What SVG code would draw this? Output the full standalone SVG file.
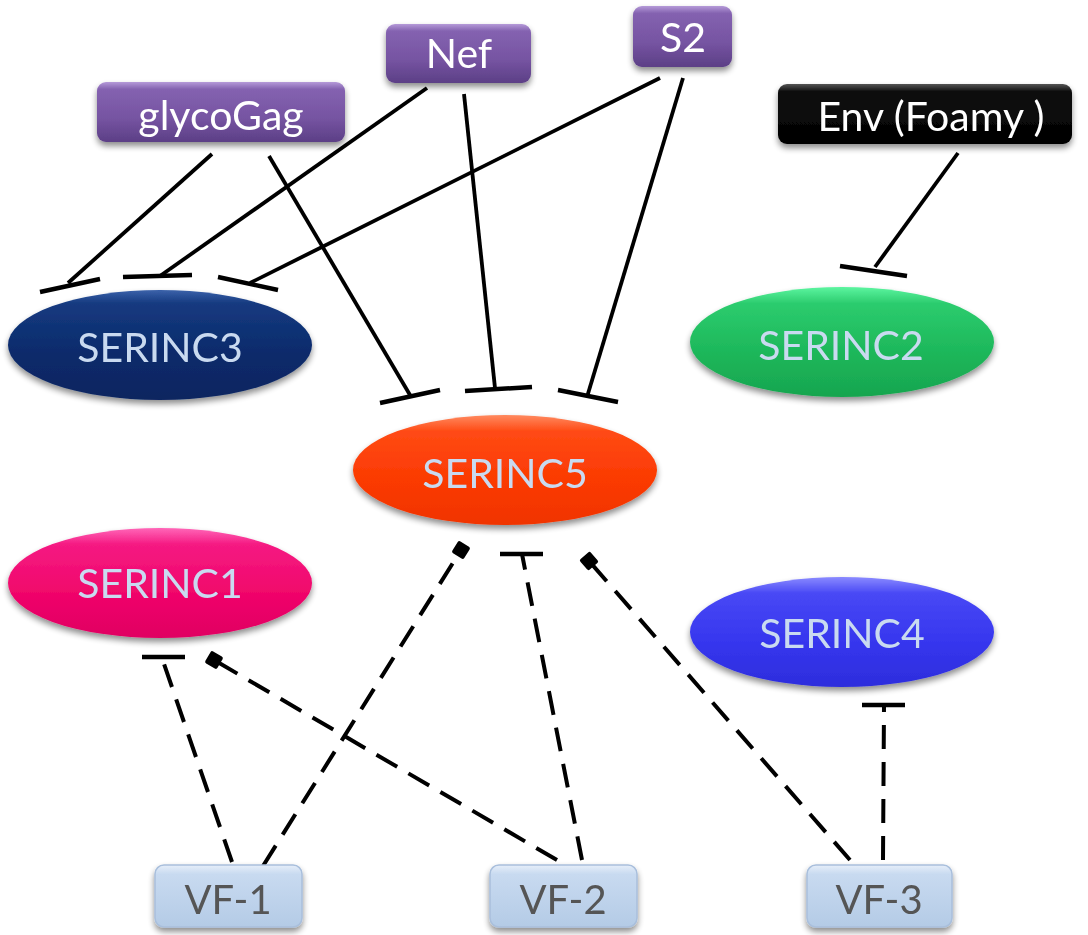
<svg xmlns="http://www.w3.org/2000/svg" width="1088" height="935" viewBox="0 0 1088 935">
<defs>
<style>
.lbl{font-family:Lato,"Open Sans","Liberation Sans",sans-serif;text-anchor:middle}
.ell{font-size:41px;fill:#c9daf0}
.box{font-size:41px;fill:#ffffff}
.vf{font-size:40px;fill:#555555}
.solid{stroke:#000;stroke-width:3.8;fill:none}
.dash{stroke:#000;stroke-width:4;fill:none;stroke-dasharray:24 13}
.bar{stroke:#000;stroke-width:4.5;fill:none}
</style>
<filter id="sh" x="-20%" y="-20%" width="140%" height="160%">
<feGaussianBlur in="SourceAlpha" stdDeviation="3"/>
<feOffset dx="0" dy="4" result="b"/>
<feComponentTransfer><feFuncA type="linear" slope="0.45"/></feComponentTransfer>
<feMerge><feMergeNode/><feMergeNode in="SourceGraphic"/></feMerge>
</filter>
<linearGradient id="gPur" x1="0" y1="0" x2="0" y2="1">
<stop offset="0" stop-color="#b59ad8"/><stop offset="0.12" stop-color="#8462b0"/><stop offset="0.6" stop-color="#7654a2"/><stop offset="1" stop-color="#5c3f86"/>
</linearGradient>
<linearGradient id="gBlk" x1="0" y1="0" x2="0" y2="1">
<stop offset="0" stop-color="#555"/><stop offset="0.12" stop-color="#111"/><stop offset="1" stop-color="#000"/>
</linearGradient>
<linearGradient id="gVF" x1="0" y1="0" x2="0" y2="1">
<stop offset="0" stop-color="#e6eef9"/><stop offset="0.15" stop-color="#c8daf0"/><stop offset="1" stop-color="#b4cbe6"/>
</linearGradient>
<linearGradient id="g3" x1="0" y1="0" x2="0" y2="1">
<stop offset="0" stop-color="#3b62aa"/><stop offset="0.12" stop-color="#153a80"/><stop offset="0.6" stop-color="#0b2a6a"/><stop offset="1" stop-color="#0a2560"/>
</linearGradient>
<linearGradient id="g2" x1="0" y1="0" x2="0" y2="1">
<stop offset="0" stop-color="#5cf5a0"/><stop offset="0.15" stop-color="#2ccc6e"/><stop offset="0.6" stop-color="#1db75a"/><stop offset="1" stop-color="#17a54f"/>
</linearGradient>
<linearGradient id="g5" x1="0" y1="0" x2="0" y2="1">
<stop offset="0" stop-color="#ff8a60"/><stop offset="0.15" stop-color="#ff4a14"/><stop offset="0.6" stop-color="#fb3a02"/><stop offset="1" stop-color="#f03400"/>
</linearGradient>
<linearGradient id="g1" x1="0" y1="0" x2="0" y2="1">
<stop offset="0" stop-color="#ff66b8"/><stop offset="0.15" stop-color="#f51a82"/><stop offset="0.6" stop-color="#f0066a"/><stop offset="1" stop-color="#e00062"/>
</linearGradient>
<linearGradient id="g4" x1="0" y1="0" x2="0" y2="1">
<stop offset="0" stop-color="#8a8aff"/><stop offset="0.15" stop-color="#4848f5"/><stop offset="0.6" stop-color="#3636ee"/><stop offset="1" stop-color="#2d2ddc"/>
</linearGradient>
<marker id="sq" markerUnits="userSpaceOnUse" markerWidth="16" markerHeight="16" refX="8" refY="8" orient="auto">
<rect x="1" y="1" width="14" height="14" rx="2" fill="#000"/>
</marker>
</defs>
<rect width="1088" height="935" fill="#fff"/>

<g id="connectors">
<line class="solid" x1="212" y1="154" x2="68" y2="283"/>
<line class="bar" x1="40" y1="292" x2="100" y2="279"/>
<line class="solid" x1="427" y1="88" x2="160" y2="276"/>
<line class="bar" x1="123" y1="277" x2="192" y2="275"/>
<line class="solid" x1="660" y1="78" x2="250" y2="283"/>
<line class="bar" x1="218" y1="277" x2="278" y2="290"/>
<line class="solid" x1="269" y1="156" x2="410" y2="395"/>
<line class="bar" x1="380" y1="403" x2="440" y2="390"/>
<line class="solid" x1="464" y1="94" x2="495" y2="388"/>
<line class="bar" x1="465" y1="391" x2="532" y2="387"/>
<line class="solid" x1="683" y1="78" x2="587" y2="397"/>
<line class="bar" x1="558" y1="390" x2="618" y2="402"/>
<line class="solid" x1="958" y1="153" x2="875" y2="267"/>
<line class="bar" x1="840" y1="266" x2="907" y2="276"/>
<line class="dash" x1="232" y1="862" x2="162" y2="658"/>
<line class="bar" x1="142" y1="657" x2="185" y2="657"/>
<line class="dash" x1="263" y1="866" x2="461" y2="550" marker-end="url(#sq)"/>
<line class="dash" x1="557" y1="860" x2="214" y2="660" marker-end="url(#sq)"/>
<line class="dash" x1="582" y1="860" x2="522" y2="554"/>
<line class="bar" x1="500" y1="554" x2="543" y2="554"/>
<line class="dash" x1="850" y1="860" x2="589" y2="561" marker-end="url(#sq)"/>
<line class="dash" x1="883" y1="860" x2="884" y2="705"/>
<line class="bar" x1="862" y1="705" x2="905" y2="705"/>
</g>

<g id="glycoGag" filter="url(#sh)">
<rect x="97" y="82" width="248" height="60" rx="9" fill="url(#gPur)"/>
<text class="lbl box" x="221" y="130">glycoGag</text>
</g>
<g id="Nef" filter="url(#sh)">
<rect x="386" y="24" width="145" height="59" rx="9" fill="url(#gPur)"/>
<text class="lbl box" x="459" y="68">Nef</text>
</g>
<g id="S2" filter="url(#sh)">
<rect x="633" y="6" width="99" height="61" rx="9" fill="url(#gPur)"/>
<text class="lbl box" x="683" y="52">S2</text>
</g>
<g id="EnvFoamy" filter="url(#sh)">
<rect x="778" y="84" width="294" height="60" rx="9" fill="url(#gBlk)"/>
<text class="lbl box" x="931" y="131">Env (Foamy )</text>
</g>

<g id="SERINC3" filter="url(#sh)">
<ellipse cx="160" cy="345" rx="152" ry="55" fill="url(#g3)"/>
<text class="lbl ell" x="160" y="362">SERINC3</text>
</g>
<g id="SERINC2" filter="url(#sh)">
<ellipse cx="842" cy="342" rx="152" ry="55" fill="url(#g2)"/>
<text class="lbl ell" x="841" y="360">SERINC2</text>
</g>
<g id="SERINC5" filter="url(#sh)">
<ellipse cx="505" cy="470" rx="152" ry="55" fill="url(#g5)"/>
<text class="lbl ell" x="505" y="488">SERINC5</text>
</g>
<g id="SERINC1" filter="url(#sh)">
<ellipse cx="160" cy="583" rx="152" ry="55" fill="url(#g1)"/>
<text class="lbl ell" x="160" y="598">SERINC1</text>
</g>
<g id="SERINC4" filter="url(#sh)">
<ellipse cx="842" cy="632" rx="152" ry="55" fill="url(#g4)"/>
<text class="lbl ell" x="842" y="648">SERINC4</text>
</g>

<g id="VF-1" filter="url(#sh)">
<rect x="155" y="865" width="147" height="62" rx="9" fill="url(#gVF)" stroke="#a9bfdc" stroke-width="1.5"/>
<text class="lbl vf" x="228" y="914">VF-1</text>
</g>
<g id="VF-2" filter="url(#sh)">
<rect x="490" y="865" width="147" height="62" rx="9" fill="url(#gVF)" stroke="#a9bfdc" stroke-width="1.5"/>
<text class="lbl vf" x="563" y="914">VF-2</text>
</g>
<g id="VF-3" filter="url(#sh)">
<rect x="807" y="865" width="145" height="62" rx="9" fill="url(#gVF)" stroke="#a9bfdc" stroke-width="1.5"/>
<text class="lbl vf" x="879" y="914">VF-3</text>
</g>
</svg>
